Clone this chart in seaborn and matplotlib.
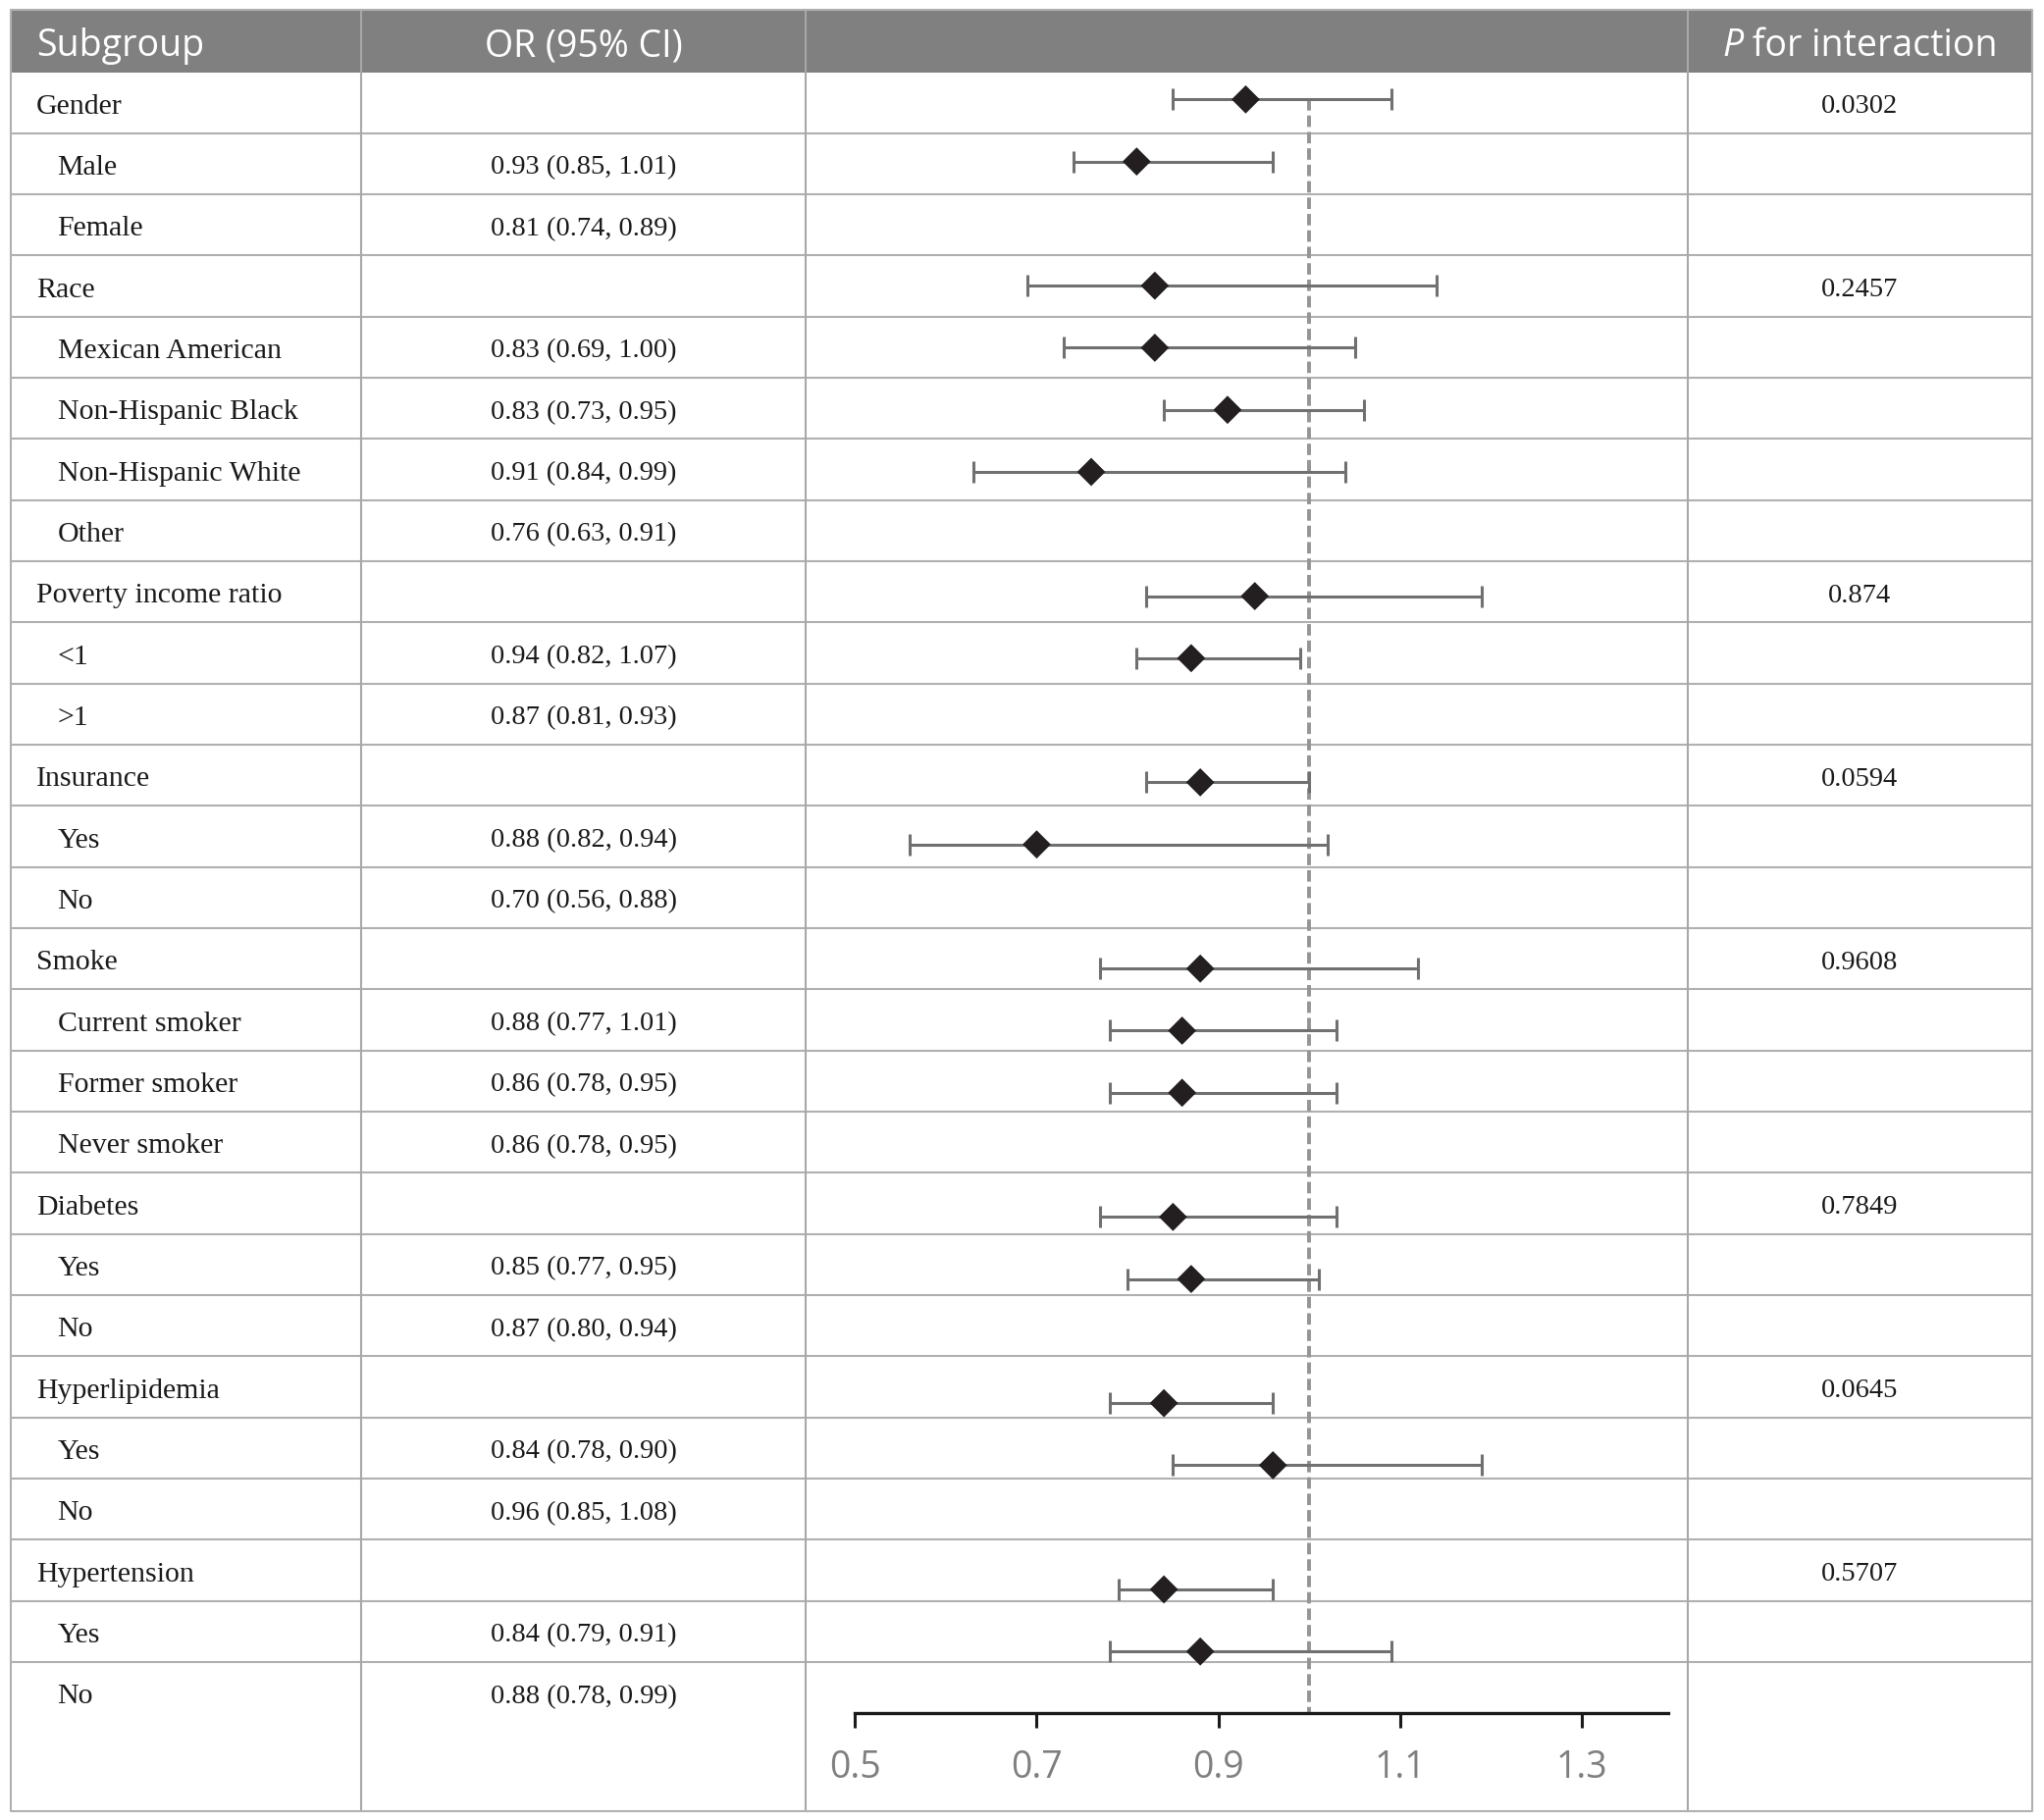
import matplotlib
matplotlib.use("Agg")
import matplotlib.pyplot as plt
import seaborn as sns
import pandas as pd

# 表格内容
labels = ["Gender", "Male", "Female", "Race", "Mexican American", "Non-Hispanic Black",
          "Non-Hispanic White", "Other", "Poverty income ratio", "<1", ">1",
          "Insurance", "Yes", "No", "Smoke", "Current smoker", "Former smoker",
          "Never smoker", "Diabetes", "Yes", "No", "Hyperlipidemia", "Yes", "No",
          "Hypertension", "Yes", "No"]
is_group = [1, 0, 0, 1, 0, 0, 0, 0, 1, 0, 0, 1, 0, 0, 1, 0, 0, 0, 1, 0, 0, 1, 0, 0, 1, 0, 0]
or_text = ["", "0.93 (0.85, 1.01)", "0.81 (0.74, 0.89)", "", "0.83 (0.69, 1.00)",
           "0.83 (0.73, 0.95)", "0.91 (0.84, 0.99)", "0.76 (0.63, 0.91)", "",
           "0.94 (0.82, 1.07)", "0.87 (0.81, 0.93)", "", "0.88 (0.82, 0.94)",
           "0.70 (0.56, 0.88)", "", "0.88 (0.77, 1.01)", "0.86 (0.78, 0.95)",
           "0.86 (0.78, 0.95)", "", "0.85 (0.77, 0.95)", "0.87 (0.80, 0.94)", "",
           "0.84 (0.78, 0.90)", "0.96 (0.85, 1.08)", "", "0.84 (0.79, 0.91)",
           "0.88 (0.78, 0.99)"]
p_text = ["0.0302", "", "", "0.2457", "", "", "", "", "0.874", "", "", "0.0594", "", "",
          "0.9608", "", "", "", "0.7849", "", "", "0.0645", "", "", "0.5707", "", ""]

# 森林图中实际画出的点（行位置、OR、下限、上限）
pt_row = [0, 1, 3, 4, 5, 6, 8, 9, 11, 12, 14, 15, 16, 18, 19, 21, 22, 24, 25]
pt_or = [0.93, 0.81, 0.83, 0.83, 0.91, 0.76, 0.94, 0.87, 0.88, 0.70,
         0.88, 0.86, 0.86, 0.85, 0.87, 0.84, 0.96, 0.84, 0.88]
pt_lo = [0.85, 0.74, 0.69, 0.73, 0.84, 0.63, 0.82, 0.81, 0.82, 0.56,
         0.77, 0.78, 0.78, 0.77, 0.80, 0.78, 0.85, 0.79, 0.78]
pt_hi = [1.09, 0.96, 1.14, 1.05, 1.06, 1.04, 1.19, 0.99, 1.00, 1.02,
         1.12, 1.03, 1.03, 1.03, 1.01, 0.96, 1.19, 0.96, 1.09]
x_ticks = [0.5, 0.7, 0.9, 1.1, 1.3]

df = pd.DataFrame({"row": pt_row, "OR": pt_or, "lo": pt_lo, "hi": pt_hi})

sns.set_theme(style="white")
plt.rcParams['font.family'] = ['Liberation Serif', 'DejaVu Serif']

# 版面尺寸（以 1566 x 1395 的网格为单位）
W, H = 1566, 1395
L, R, TOP, HEAD_B, BOT = 8, 1557, 8, 56, 1388
col_x = [277, 617, 1293]
row_h = (1274 - HEAD_B) / 26
grid_c = '#b0b0b0'

fig = plt.figure(figsize=(20.83, 18.56), dpi=100)
bg = fig.add_axes([0, 0, 1, 1])
bg.set_xlim(0, W)
bg.set_ylim(H, 0)
bg.axis('off')

# 表头
bg.fill_between([L, R], TOP, HEAD_B, color='#808080', lw=0, zorder=1)
# 表格线
for i in range(1, 27):
    y = HEAD_B + i * row_h
    bg.plot([L, R], [y, y], color=grid_c, lw=1.5, zorder=2)
for x in col_x:
    bg.plot([x, x], [TOP, BOT], color='#a8a8a8', lw=1.5, zorder=2)
bg.plot([L, R, R, L, L], [TOP, TOP, BOT, BOT, TOP], color=grid_c, lw=1.5, zorder=2)

head_font = ['Open Sans', 'DejaVu Sans']
bg.text(28, (TOP + HEAD_B) / 2, "Subgroup", color='white', fontsize=27,
        family=head_font, ha='left', va='center_baseline', zorder=3)
bg.text(447, (TOP + HEAD_B) / 2, "OR (95% CI)", color='white', fontsize=27,
        family=head_font, ha='center', va='center_baseline', zorder=3)

# 行文字
for i, lab in enumerate(labels):
    yc = HEAD_B + (i + 0.5) * row_h
    bg.text(28 if is_group[i] else 44, yc, lab, fontsize=21.5, color='#1a1a1a',
            ha='left', va='center_baseline', zorder=3)
    if or_text[i]:
        bg.text(447, yc, or_text[i], fontsize=20.5, color='#1a1a1a',
                ha='center', va='center_baseline', zorder=3)
    if p_text[i]:
        bg.text(1425, yc, p_text[i], fontsize=20.5, color='#1a1a1a',
                ha='center', va='center_baseline', zorder=3)

# 森林图
x0, x1 = 0.5, 1.395
px_per_unit = 696.25
ax = fig.add_axes([655 / W, 1 - 1313 / H, (x1 - x0) * px_per_unit / W, (1313 - HEAD_B) / H])
ax.patch.set_alpha(0)
ax.errorbar(df['OR'], df['row'], xerr=[df['OR'] - df['lo'], df['hi'] - df['OR']],
            fmt='none', ecolor='#707070', elinewidth=2.2, capsize=8, capthick=2.2, zorder=3)
sns.scatterplot(data=df, x='OR', y='row', marker='D', s=215, color='#231f20',
                edgecolor='none', linewidth=0, zorder=4, ax=ax, legend=False)
ybot = 25.99
ax.plot([1.0, 1.0], [0, ybot], color='#959595', lw=2.8, dashes=(3.0, 1.3), zorder=2)
ax.set_xlim(x0, x1)
ax.set_ylim(ybot, -0.44)
ax.set_xticks(x_ticks)
ax.set_xticklabels([f"{t:.1f}" for t in x_ticks], family=head_font)
ax.set_yticks([])
ax.set_xlabel('')
ax.set_ylabel('')
for s in ['top', 'left', 'right']:
    ax.spines[s].set_visible(False)
ax.spines['bottom'].set_color('#1a1a1a')
ax.spines['bottom'].set_linewidth(2.4)
ax.tick_params(axis='x', direction='out', length=11, width=2.2, color='#1a1a1a',
               labelcolor='#7f7f7f', labelsize=27, pad=15, bottom=True)

# P for interaction（P 为斜体）
fig.canvas.draw()
rend = fig.canvas.get_renderer()
k = W / fig.bbox.width
yh = (TOP + HEAD_B) / 2
tp = bg.text(0, yh, "P", color='white', fontsize=27, family=head_font, style='italic',
             ha='left', va='center_baseline', zorder=3)
tr = bg.text(0, yh, " for interaction", color='white', fontsize=27, family=head_font,
             ha='left', va='center_baseline', zorder=3)
w1 = tp.get_window_extent(rend).width * k
w2 = tr.get_window_extent(rend).width * k
xs = 1425 - (w1 + w2) / 2
tp.set_x(xs)
tr.set_x(xs + w1)

fig.savefig('out.png', dpi=100)
